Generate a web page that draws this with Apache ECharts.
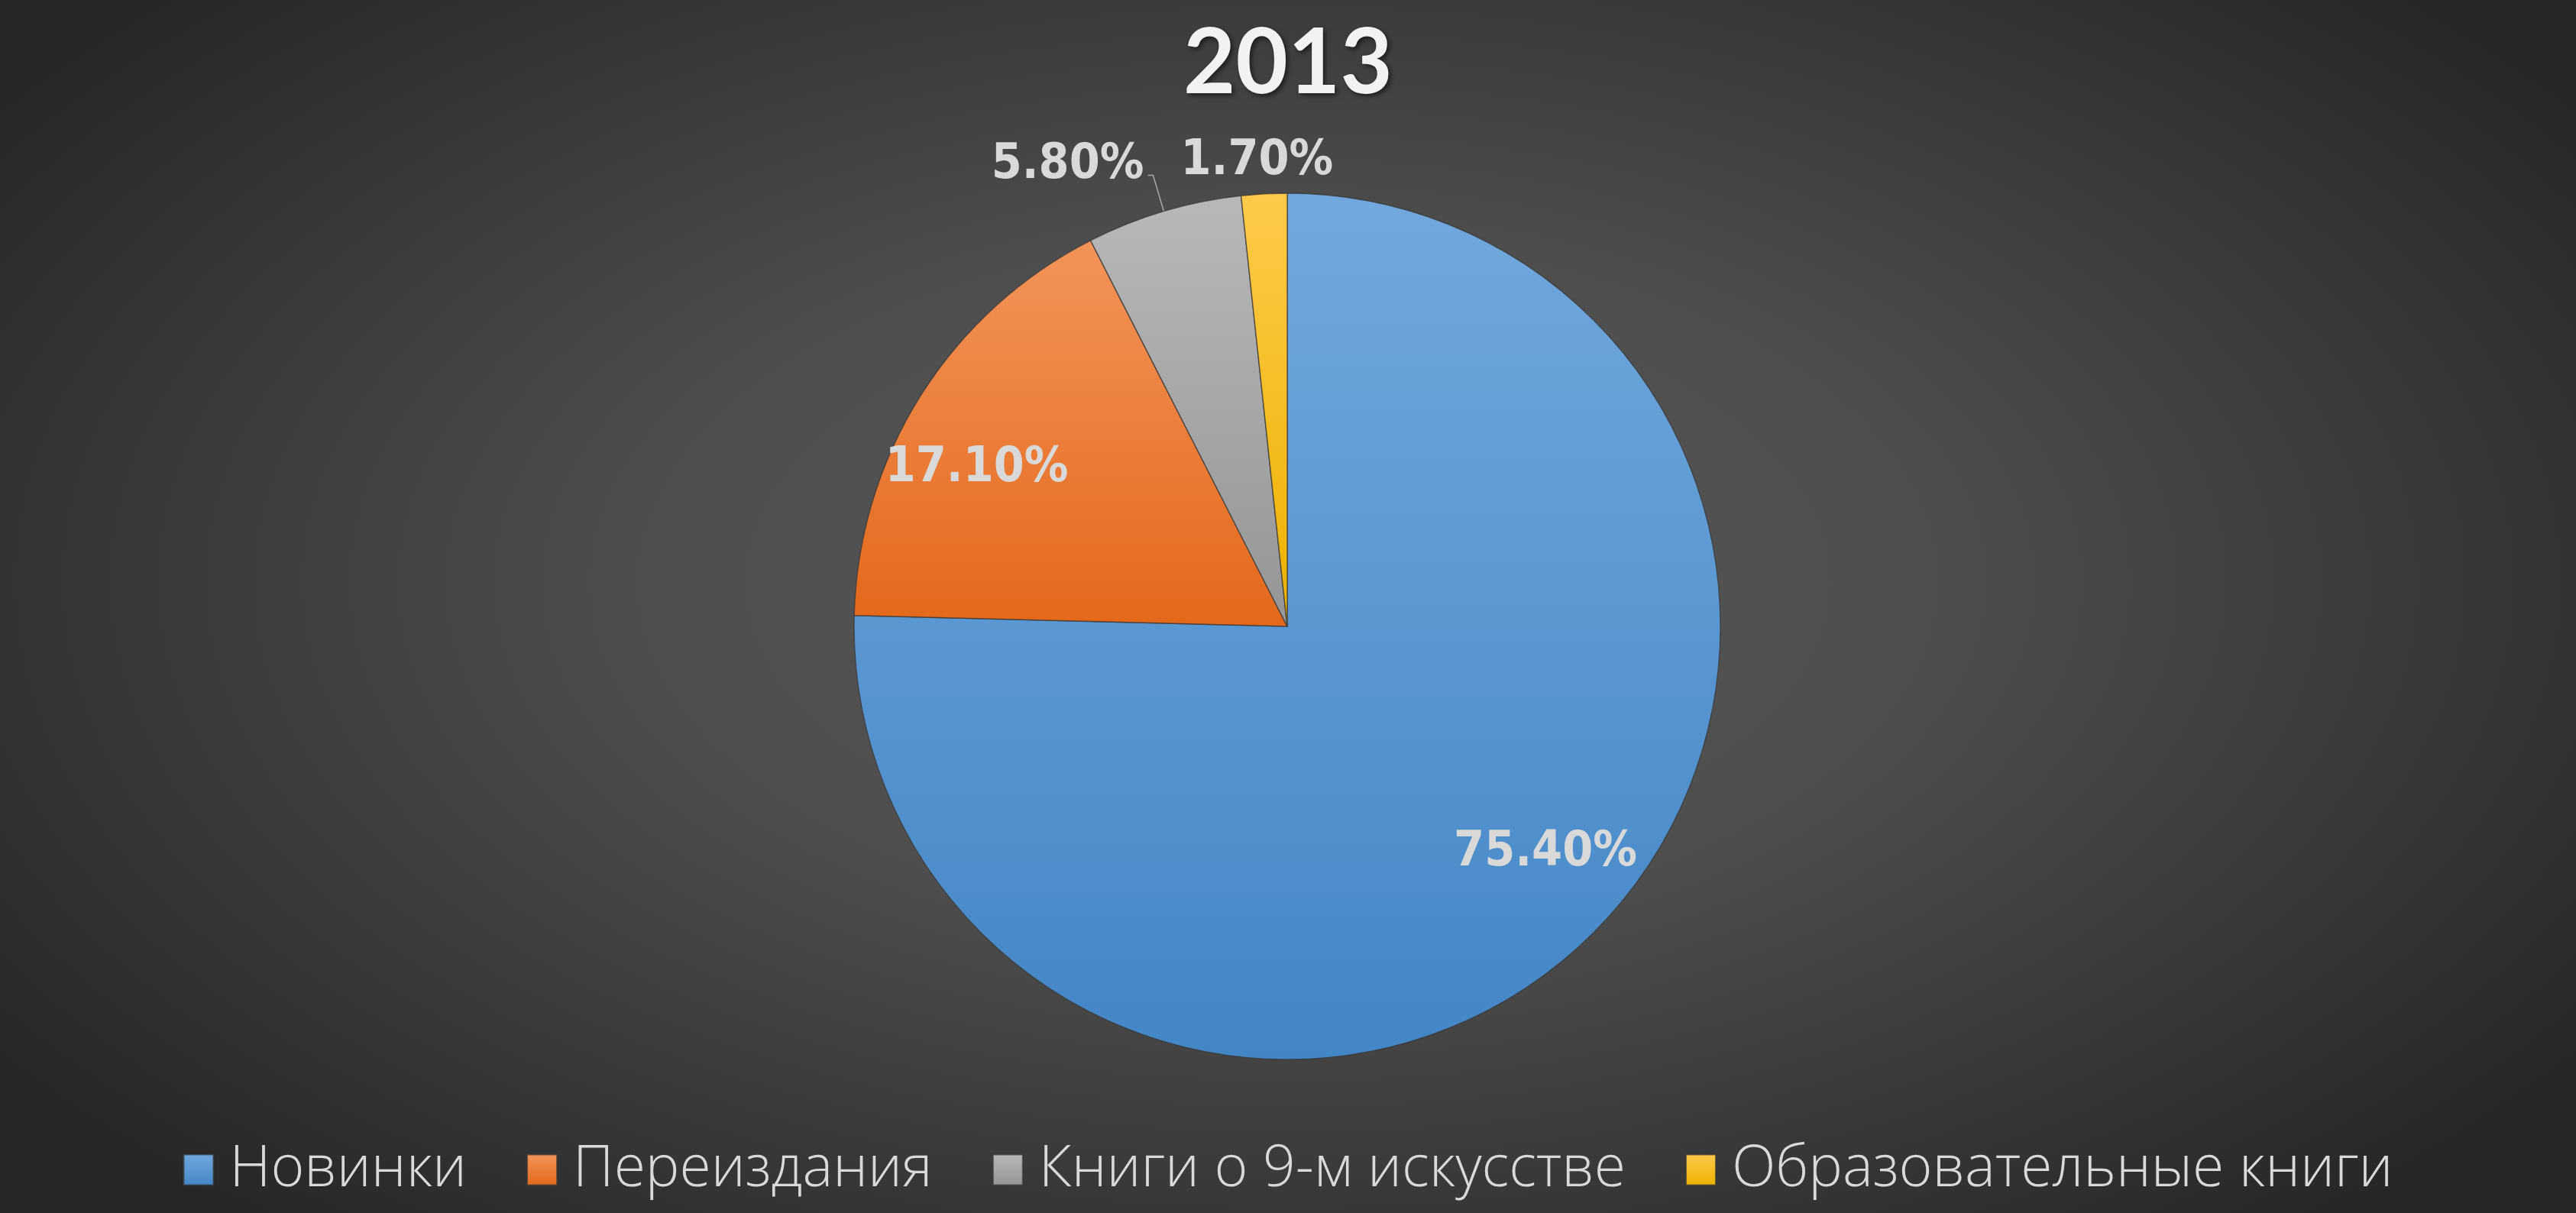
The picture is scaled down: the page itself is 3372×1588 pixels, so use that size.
<!DOCTYPE html>
<html><head><meta charset="utf-8">
<script src="https://cdn.jsdelivr.net/npm/echarts@6/dist/echarts.min.js"></script>
<style>
html,body{margin:0;padding:0;width:3372px;height:1588px;overflow:hidden;
background:radial-gradient(ellipse 62% 70% at 50% 48%, #585858 0%, #4e4e4e 40%, #3a3a3a 70%, #262626 100%);}
#c{width:3372px;height:1588px;}
</style>
</head><body><div id="c"></div>
<script>
const chartTitle = '2013';
const categories = ['Новинки', 'Переиздания', 'Книги о 9-м искусстве', 'Образовательные книги'];
const values = [75.4, 17.1, 5.8, 1.7];

const colorTop = ['#72a8dd', '#f3945a', '#b8b8b8', '#ffca4a'];
const colorBottom = ['#4386c6', '#e3681a', '#959595', '#edb100'];

const chart = echarts.init(document.getElementById('c'), null, {renderer: 'canvas'});

const labelFont = {
  fontFamily: '"DejaVu Sans Condensed", "Liberation Sans", sans-serif',
  fontWeight: 'bold', fontSize: 64, color: '#d9d9d9'
};

const data = categories.map((name, i) => {
  const item = {
    name, value: values[i],
    itemStyle: {
      color: new echarts.graphic.LinearGradient(0, 0, 0, 1, [
        {offset: 0, color: colorTop[i]}, {offset: 1, color: colorBottom[i]}
      ])
    }
  };
  if (i < 2) {
    item.label = {position: 'inside'};
  } else if (i === 2) {
    item.label = {position: 'outside', padding: [0, 0, 80, 0]};
    item.labelLine = {show: true, length: 49, length2: 7, lineStyle: {color: '#a6a6a6', width: 1.5}};
  } else {
    item.label = {position: 'outside'};
    item.labelLine = {show: false, length: 10, length2: 0};
  }
  return item;
});

const shifts = [[138, 91], [-164, -54], [0, -13], [96, -32]];

chart.setOption({
  backgroundColor: 'transparent',
  animation: false,
  title: {
    text: chartTitle, left: 'center', top: 20,
    textStyle: {
      fontFamily: 'Lato, "DejaVu Sans", sans-serif', fontWeight: 'bold', fontSize: 118,
      color: '#f2f2f2', textShadowColor: 'rgba(0,0,0,0.55)', textShadowBlur: 6,
      textShadowOffsetX: 3, textShadowOffsetY: 3
    }
  },
  legend: {
    data: categories,
    top: 1489, left: 'center',
    icon: 'rect', itemWidth: 39, itemHeight: 40, itemGap: 78,
    textStyle: {
      fontFamily: '"Open Sans", "Noto Sans", sans-serif', fontWeight: 300,
      fontSize: 75, color: '#d9d9d9', padding: [0, 0, 0, 16]
    }
  },
  series: [{
    type: 'pie',
    center: [1685, 820],
    radius: 567,
    startAngle: 90,
    clockwise: true,
    avoidLabelOverlap: false,
    data: data,
    itemStyle: {borderColor: 'rgba(55,55,55,0.7)', borderWidth: 1.5},
    label: Object.assign({
      formatter: p => p.value.toFixed(2) + '%'
    }, labelFont),
    labelLayout: function (params) {
      const s = shifts[params.dataIndex];
      return {dx: s[0], dy: s[1]};
    },
    emphasis: {disabled: true}
  }]
});
</script>
</body></html>
